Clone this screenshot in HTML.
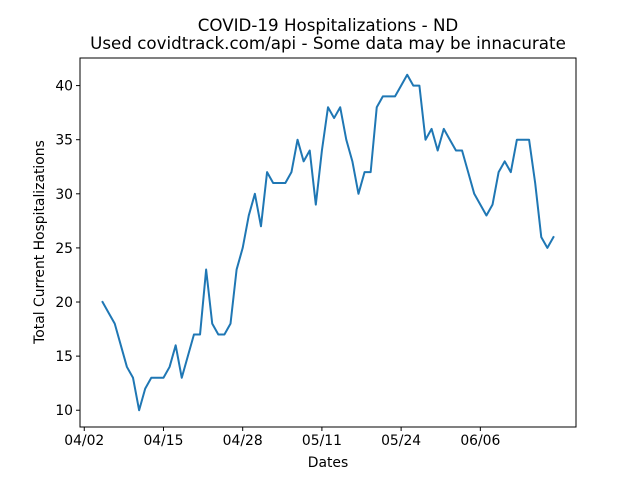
<!DOCTYPE html>
<html><head><meta charset="utf-8"><style>
body{margin:0;background:#fff;}
svg{display:block;font-family:"DejaVu Sans","Liberation Sans",sans-serif;}
</style></head><body>
<svg id="chart" width="640" height="480" xmlns="http://www.w3.org/2000/svg">
<rect width="640" height="480" fill="#fff"/>
<text x="328" y="31" font-size="16.7" text-anchor="middle">COVID-19 Hospitalizations - ND</text>
<text x="328" y="49" font-size="16.7" text-anchor="middle">Used covidtrack.com/api - Some data may be innacurate</text>
<g id="xt"></g>
<g id="yt"></g>
<path id="line" fill="none" stroke="#1f77b4" stroke-width="2" stroke-linejoin="round" stroke-linecap="square"/>
<rect x="80" y="58" width="496" height="369" fill="none" stroke="#000" stroke-width="1"/>
<text x="328" y="467" font-size="13.9" text-anchor="middle">Dates</text>
<text transform="translate(44,242) rotate(-90)" font-size="13.9" text-anchor="middle">Total Current Hospitalizations</text>
</svg>
<script>
// day offsets from 04/02; first data point is 04/05
const startDay = 3;
const values = [20,19,18,16,14,13,10,12,13,13,13,14,16,13,15,17,17,23,18,17,17,18,23,25,
28,30,27,32,31,31,31,32,35,33,34,29,34,38,37,38,35,33,30,32,32,38,39,39,39,40,41,40,40,35,
36,34,36,35,34,34,32,30,29,28,29,32,33,32,35,35,35,31,26,25,26];
const xTickLabels = ["04/02","04/15","04/28","05/11","05/24","06/06"];
const xTickDays = [0,13,26,39,52,65];
const yTickValues = [10,15,20,25,30,35,40];

const L=80,R=576,T=58,B=427;
const dMin=startDay, dMax=startDay+values.length-1, dPad=(dMax-dMin)*0.05;
const vMin=Math.min(...values), vMax=Math.max(...values), vPad=(vMax-vMin)*0.05;
const xs=d=>L+(d-(dMin-dPad))/((dMax-dMin)+2*dPad)*(R-L);
const ys=v=>B-(v-(vMin-vPad))/((vMax-vMin)+2*vPad)*(B-T);
const NS="http://www.w3.org/2000/svg";
document.getElementById('line').setAttribute('d',values.map((v,i)=>(i?'L':'M')+xs(startDay+i).toFixed(2)+' '+ys(v).toFixed(2)).join(' '));
const xt=document.getElementById('xt'), yt=document.getElementById('yt');
xTickDays.forEach((d,i)=>{
  const x=xs(d);
  const l=document.createElementNS(NS,'line');
  
  
  l.setAttribute('x1',x);l.setAttribute('x2',x);l.setAttribute('y1',B);l.setAttribute('y2',B+4);l.setAttribute('stroke','#000');
  xt.appendChild(l);
  const t=document.createElementNS(NS,'text');
  
  
  t.setAttribute('x',x);t.setAttribute('y',B+18);t.setAttribute('font-size','13.9');t.setAttribute('text-anchor','middle');
  t.textContent=xTickLabels[i];xt.appendChild(t);
});
yTickValues.forEach(v=>{
  const y=ys(v);
  const l=document.createElementNS(NS,'line');
  
  
  l.setAttribute('x1',L-4);l.setAttribute('x2',L);l.setAttribute('y1',y);l.setAttribute('y2',y);l.setAttribute('stroke','#000');
  yt.appendChild(l);
  const t=document.createElementNS(NS,'text');
  
  
  t.setAttribute('x',L-7);t.setAttribute('y',y+5);t.setAttribute('font-size','13.9');t.setAttribute('text-anchor','end');
  t.textContent=v;yt.appendChild(t);
});
</script>
</body></html>
